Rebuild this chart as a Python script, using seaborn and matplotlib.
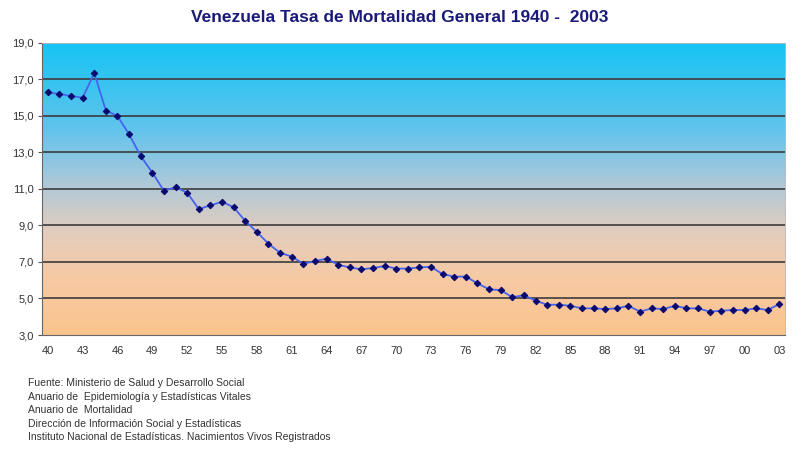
import numpy as np
import pandas as pd
import seaborn as sns
import matplotlib
matplotlib.use("Agg")
from matplotlib import pyplot as plt
from matplotlib.colors import LinearSegmentedColormap

# === Data: tasa de mortalidad general (por 1000 hab.) ===
years = list(range(1940, 2004))
rates = [16.3, 16.2, 16.1, 16.0, 17.35, 15.3, 15.0, 14.0, 12.8, 11.9,
         10.9, 11.1, 10.8, 9.9, 10.1, 10.3, 10.0, 9.25, 8.65, 8.0,
         7.5, 7.3, 6.9, 7.05, 7.18, 6.85, 6.7, 6.6, 6.67, 6.78,
         6.64, 6.64, 6.7, 6.74, 6.33, 6.2, 6.2, 5.83, 5.5, 5.46,
         5.07, 5.18, 4.88, 4.66, 4.66, 4.6, 4.46, 4.46, 4.42, 4.46,
         4.6, 4.28, 4.46, 4.42, 4.6, 4.46, 4.46, 4.28, 4.33, 4.37,
         4.37, 4.46, 4.37, 4.7]
year_labels = [f"{y % 100:02d}" for y in years]
y_ticks = [3, 5, 7, 9, 11, 13, 15, 17, 19]

sources = ["Fuente: Ministerio de Salud y Desarrollo Social",
           "Anuario de  Epidemiología y Estadísticas Vitales",
           "Anuario de  Mortalidad",
           "Dirección de Información Social y Estadísticas",
           "Instituto Nacional de Estadísticas. Nacimientos Vivos Registrados"]

df = pd.DataFrame({"pos": np.arange(len(years)), "rate": rates})

sns.set_style("white")
plt.rcParams["font.family"] = ["Liberation Sans", "DejaVu Sans"]

fig = plt.figure(figsize=(8, 4.51), dpi=100)
ax = fig.add_axes([0.0525, 0.2572, 0.929, 0.6475])

# background gradient (sky blue -> peach)
cmap = LinearSegmentedColormap.from_list(
    "bg", [(0.0, "#14c3f4"), (0.3, "#62c4ec"), (0.5, "#b4c9d6"),
           (0.65, "#e4cdbd"), (0.82, "#f7c9a2"), (1.0, "#fbc48e")])
grad = np.linspace(0, 1, 256).reshape(-1, 1)
ax.imshow(grad, cmap=cmap, aspect="auto", extent=[-0.5, 63.5, 3, 19],
          origin="upper", zorder=0)

for yv in y_ticks[1:-1]:
    ax.axhline(yv, color="#3c3c3c", lw=1.2, zorder=1)

sns.lineplot(data=df, x="pos", y="rate", ax=ax, color="#4563f0", lw=1.3,
             marker="D", markersize=3.3, markerfacecolor="#0a0a6e",
             markeredgecolor="#0a0a6e", zorder=3)

ax.set_xlim(-0.5, 63.5)
ax.set_ylim(3, 19)
ax.set_yticks(y_ticks)
ax.set_yticklabels([f"{v},0" for v in y_ticks])
ax.set_xticks(np.arange(0, len(years), 3))
ax.set_xticklabels(year_labels[::3])
ax.set_xticks(np.arange(-0.5, len(years), 1), minor=True)
ax.tick_params(axis="x", which="major", length=0, pad=8, labelsize=8, labelcolor="#333333")
ax.tick_params(axis="x", which="minor", length=3, width=0.8, color="#555555", direction="out")
ax.tick_params(axis="y", length=3, width=0.8, color="#555555", direction="out",
               labelsize=8, labelcolor="#333333", left=True, pad=3)
ax.set_xlabel("")
ax.set_ylabel("")
for side in ["top", "right"]:
    ax.spines[side].set_color("#bbbbbb")
    ax.spines[side].set_linewidth(0.6)
for side in ["left", "bottom"]:
    ax.spines[side].set_color("#666666")
    ax.spines[side].set_linewidth(0.8)

fig.text(0.5, 0.962, "Venezuela Tasa de Mortalidad General 1940 -  2003",
         ha="center", va="center", fontsize=12.5, fontweight="bold", color="#1a1a7a")

for i, line in enumerate(sources):
    fig.text(0.035, 1 - (383 + i * 13.6) / 451, line, ha="left", va="center",
             fontsize=7.5, color="#333333")

fig.savefig("out.png", dpi=100)
